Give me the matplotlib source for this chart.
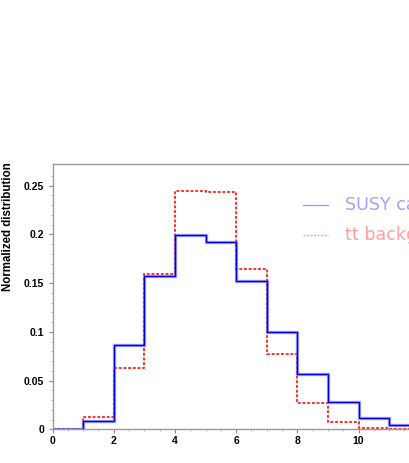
import matplotlib
matplotlib.use("Agg")
import matplotlib.pyplot as plt
import numpy as np

plt.rcParams['font.family'] = ['Liberation Sans', 'DejaVu Sans']

# bin edges (number of jets-like variable)
edges = [0, 1, 2, 3, 4, 5, 6, 7, 8, 9, 10, 11, 12]
susy = [0.0007, 0.0082, 0.0862, 0.1577, 0.1990, 0.1922, 0.1518, 0.1002, 0.0564, 0.0277, 0.0120, 0.0044]
ttbar = [0.0008, 0.0123, 0.0629, 0.1590, 0.2445, 0.2438, 0.1645, 0.0776, 0.0267, 0.0075, 0.0017, 0.0003]
xticks = [0, 2, 4, 6, 8, 10]
yticks = [0, 0.05, 0.1, 0.15, 0.2, 0.25]
ytick_labels = ['0', '0.05', '0.1', '0.15', '0.2', '0.25']
legend_labels = ['SUSY candidates', 'tt background']

W, H = 409, 463
fig = plt.figure(figsize=(W / 100, H / 100), dpi=100)
x0_px, x_unit = 52.5, 30.6
xmax = 15
ax = fig.add_axes([x0_px / W, 33.7 / H, xmax * x_unit / W, 265.3 / H])

ax.stairs(ttbar, edges, color='#ff2020', lw=1.3, linestyle=(0, (1.6, 1.0)))
ax.stairs(susy, edges, color='#6a6aff', lw=2.4, alpha=0.6)
ax.stairs(susy, edges, color='#0000d8', lw=1.0)

ax.set_xlim(0, xmax)
ax.set_ylim(0, 0.2723)

for s in ['top', 'left', 'bottom']:
    ax.spines[s].set_color('#999999')
    ax.spines[s].set_linewidth(1.0)
ax.spines['right'].set_visible(False)

ax.set_xticks(xticks)
ax.set_xticklabels([str(v) for v in xticks], fontsize=7.5, fontweight='bold')
ax.set_xticks(np.arange(0, xmax + 0.01, 0.5), minor=True)
ax.set_yticks(yticks)
ax.set_yticklabels(ytick_labels, fontsize=7.5, fontweight='bold')
ax.set_yticks(np.arange(0, 0.27, 0.01), minor=True)
ax.tick_params(axis='both', which='major', direction='out', length=3, width=0.8,
               color='#888888', pad=1.5)
ax.tick_params(axis='both', which='minor', direction='out', length=1.5, width=0.6,
               color='#aaaaaa')
ax.tick_params(axis='y', which='major', pad=3)

fig.text(8.5 / W, 1 - 227 / H, 'Normalized distribution', rotation=90,
         fontsize=8.3, fontweight='bold', ha='center', va='center')

# legend
leg_colors = ['#a0a0ff', '#ffa0a0']
leg_styles = ['-', (0, (1.5, 1.0))]
leg_y = [205, 235]
for lab, c, ls, yy in zip(legend_labels, leg_colors, leg_styles, leg_y):
    fig.add_artist(plt.Line2D([303 / W, 328 / W], [1 - yy / H, 1 - yy / H],
                              color=c, lw=1.0, linestyle=ls))
    fig.text(345 / W, 1 - (yy - 0.5) / H, lab, color=c, fontsize=12.6,
             family=['DejaVu Sans'], ha='left', va='center')

fig.savefig('out.png', dpi=100)
